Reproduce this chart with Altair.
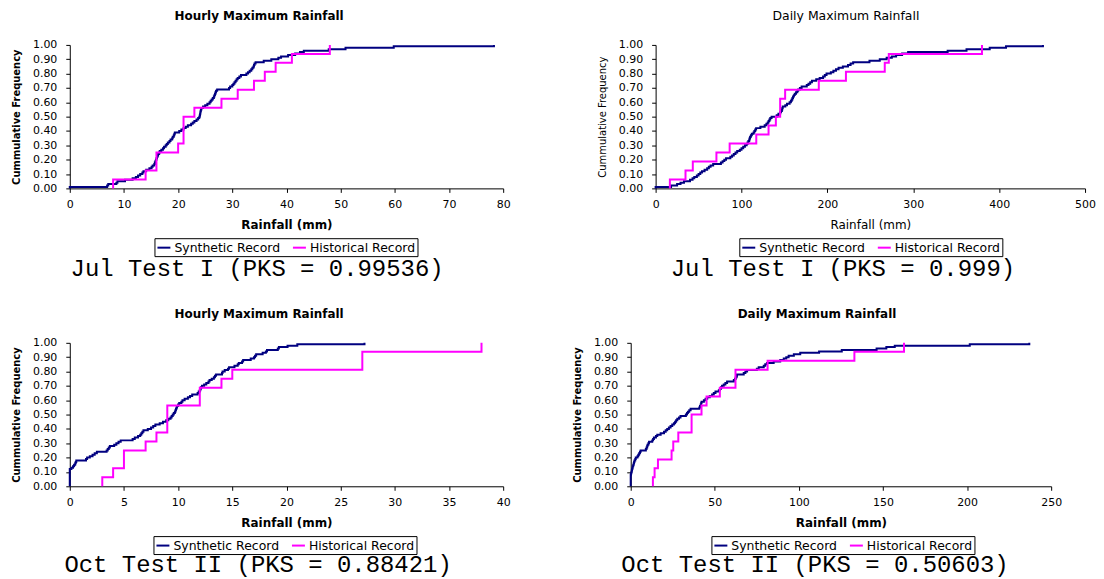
import altair as alt
import pandas as pd

# ---------------- data ----------------
SERIES = ["Synthetic Record", "Historical Record"]
SERIES_COLORS = ["#000080", "#FF00FF"]

PANEL_TITLES = ["Hourly Maximum Rainfall", "Daily Maximum Rainfall",
                "Hourly Maximum Rainfall", "Daily Maximum Rainfall"]
CAPTIONS = ["Jul Test I (PKS = 0.99536)", "Jul Test I (PKS = 0.999)",
            "Oct Test II (PKS = 0.88421)", "Oct Test II (PKS = 0.50603)"]
X_TITLE = "Rainfall (mm)"
Y_TITLE = "Cummulative Frequency"
X_MAX = [80, 500, 40, 250]
X_STEP = [10, 100, 5, 50]
Y_TICKS = [0.0, 0.1, 0.2, 0.3, 0.4, 0.5, 0.6, 0.7, 0.8, 0.9, 1.0]

# sorted sample values (mm); the cumulative frequency is computed by Vega-Lite
jul_hourly_synthetic = [
    0, 6.9, 7.1, 8.6, 8.8, 10.2, 11.6, 12.2, 12.6, 13.0,
    13.4, 13.6, 14.1, 14.7, 15.1, 15.3, 15.6, 15.7, 15.8, 15.9,
    16.0, 16.1, 16.2, 16.3, 16.5, 16.6, 16.9, 17.2, 17.4, 17.7,
    17.9, 18.1, 18.4, 18.6, 18.9, 19.0, 19.2, 19.3, 19.4, 20.2,
    20.6, 21.0, 21.4, 21.8, 22.4, 22.7, 23.0, 23.4, 23.7, 23.9,
    24.0, 24.05, 24.1, 24.15, 24.2, 24.3, 24.6, 25.0, 25.4, 25.8,
    26.0, 26.2, 26.4, 26.6, 26.7, 26.8, 26.9, 27.0, 27.2, 29.4,
    29.6, 30.0, 30.2, 30.4, 30.6, 30.8, 31.0, 31.3, 31.6, 32.6,
    32.9, 33.2, 33.5, 33.7, 33.9, 34.0, 34.1, 34.3, 35.8, 37.2,
    38.5, 39.0, 40.3, 41.6, 42.5, 43.2, 47.8, 50.9, 59.8, 78.3]
jul_hourly_historical = [8, 14, 16, 16, 20, 21, 21, 21, 23, 28, 31, 34, 36, 38, 41, 48]

jul_daily_synthetic = [
    0, 18, 25, 29, 33, 40, 43, 45, 48, 50,
    52, 54, 57, 60, 62, 64, 67, 76, 78, 80,
    82, 87, 89, 91, 93, 95, 98, 100, 102, 104,
    106, 107, 108, 109, 109.5, 110, 111, 112, 114, 115,
    116, 117, 122, 127, 129, 130.5, 131.5, 132.5, 133.5, 135,
    141, 143, 145, 146, 147, 147.5, 148, 151, 153, 156,
    157.5, 158.5, 159.3, 160, 161, 162, 163.5, 165, 166, 168,
    170, 176, 178, 180, 182, 187, 191, 195, 197, 199,
    204, 207, 210, 213, 218, 224, 227, 230, 249, 261,
    269, 275, 280, 287, 294, 340, 362, 389, 408, 451]
jul_daily_historical = [16.6, 34.8, 43.3, 70.8, 86.2, 117.2, 131.5, 140, 145, 145,
                        150.8, 190, 221.6, 266.8, 271.5, 380]

oct_hourly_synthetic = [
    0, 0, 0, 0, 0, 0, 0, 0, 0, 0,
    0, 0, 0.15, 0.3, 0.4, 0.5, 0.55, 0.6, 1.5, 1.6,
    1.85, 2.1, 2.3, 2.5, 3.4, 3.5, 3.6, 3.7, 4.1, 4.3,
    4.5, 4.7, 5.8, 6.0, 6.3, 6.5, 6.6, 6.7, 6.8, 7.2,
    7.5, 7.7, 7.9, 8.3, 8.6, 8.9, 9.1, 9.3, 9.4, 9.5,
    9.6, 9.7, 9.75, 9.8, 9.85, 9.9, 10.0, 10.1, 10.3, 10.4,
    10.6, 10.9, 11.1, 11.3, 11.8, 11.9, 12.0, 12.05, 12.1, 12.2,
    12.4, 12.6, 12.8, 12.9, 13.1, 13.3, 13.4, 13.5, 14.05, 14.1,
    14.3, 14.6, 14.7, 15.2, 15.5, 15.6, 15.9, 16.0, 16.7, 17.0,
    17.1, 17.2, 17.8, 18.1, 18.2, 19.2, 19.3, 20.1, 21.0, 27.2]
oct_hourly_historical = [3, 4, 5, 5, 7, 8, 9, 9, 9, 12, 12, 14, 15, 27, 27, 38]

oct_daily_synthetic = [
    0, 0, 0, 0, 0, 0, 0, 0, 0.2, 0.4,
    0.6, 0.8, 1.0, 1.2, 1.5, 1.8, 2.0, 2.2, 2.7, 3.0,
    4.0, 4.5, 5.0, 5.5, 5.9, 9.0, 9.4, 9.8, 10.0, 10.5,
    10.9, 12.8, 13.3, 13.8, 15.0, 15.8, 17.8, 19.8, 20.8, 21.7,
    22.7, 23.7, 24.7, 25.7, 26.4, 27.0, 27.7, 28.7, 29.6, 32.8,
    33.5, 34.0, 34.8, 35.6, 40.8, 41.2, 41.6, 41.9, 42.1, 43.5,
    44.5, 45.5, 47.0, 48.4, 49.4, 50.4, 52.4, 53.0, 53.7, 54.3,
    55.3, 56.3, 57.3, 61.3, 62.0, 62.5, 63.0, 63.2, 67.2, 68.2,
    69.2, 75.0, 76.1, 79.1, 80.0, 81.0, 85.0, 88.9, 91.0, 92.5,
    93.9, 97.0, 100.8, 112.0, 125.5, 146.2, 152.0, 157.0, 201.6, 237.0]
oct_daily_historical = [13.2, 14.2, 16.2, 24.3, 25.3, 28.3, 36.2, 36.2, 42.1, 45.1,
                        53, 62.3, 62.3, 81.4, 133, 162.5]

SYNTHETIC = [jul_hourly_synthetic, jul_daily_synthetic, oct_hourly_synthetic, oct_daily_synthetic]
HISTORICAL = [jul_hourly_historical, jul_daily_historical, oct_hourly_historical, oct_daily_historical]
BOLD = [True, False, True, True]

# ---------------- layout (pixels, relative to each panel's group) ----------------
PLOT_H = 144
WIDTHS = [435, 456, 435, 422]
RANGE_LEFT = [0, 25, 0, 0]
TITLE_X = [190, 216, 190, 187]
LEGEND_X = [85, 109, 84, 81]
LEGEND_Y = [194, 194, 194, 194]
CAPTION_X = [188, 213, 189, 185]
CAPTION_Y = [225, 225, 223, 223]


def make_panel(i):
    syn, hist = SYNTHETIC[i], HISTORICAL[i]
    df = pd.DataFrame({
        "rain": syn + hist,
        "series": [SERIES[0]] * len(syn) + [SERIES[1]] * len(hist),
    })
    weight = "bold" if BOLD[i] else "normal"
    left = RANGE_LEFT[i]
    width = WIDTHS[i]
    if left:
        xscale = alt.Scale(domain=[0, X_MAX[i]], range=[left, width], nice=False)
    else:
        xscale = alt.Scale(domain=[0, X_MAX[i]], nice=False)

    lines = (
        alt.Chart(df)
        .transform_window(rank="row_number()", sort=[alt.SortField("rain")], groupby=["series"])
        .transform_joinaggregate(n="count(rain)", groupby=["series"])
        .transform_calculate(lo="(datum.rank - 1) / datum.n", hi="datum.rank / datum.n")
        .transform_fold(["lo", "hi"], as_=["edge", "F"])
        .transform_calculate(ord="datum.rank * 2 + (datum.edge == 'hi' ? 1 : 0)")
        .mark_line(strokeWidth=2, clip=False)
        .encode(
            x=alt.X("rain:Q", scale=xscale,
                    axis=alt.Axis(values=list(range(0, X_MAX[i] + 1, X_STEP[i])), format="d",
                                  title=X_TITLE, titleFontWeight=weight, titleFontSize=12,
                                  titleFont="DejaVu Sans", titleColor="black",
                                  labelFont="DejaVu Sans", labelFontSize=11, labelColor="black",
                                  tickSize=4, labelPadding=6, titlePadding=10,
                                  grid=False, domainColor="black", tickColor="black",
                                  labelFlush=False)),
            y=alt.Y("F:Q", scale=alt.Scale(domain=[0, 1], nice=False),
                    axis=alt.Axis(values=Y_TICKS, format=".2f", title=Y_TITLE,
                                  titleFontWeight=weight, titleFontSize=10,
                                  titleFont="DejaVu Sans", titleColor="black",
                                  labelFont="DejaVu Sans", labelFontSize=11, labelColor="black",
                                  tickSize=4, labelPadding=9, titlePadding=11,
                                  grid=False, domainColor="black", tickColor="black",
                                  labelFlush=False, offset=-left)),
            color=alt.Color("series:N",
                            scale=alt.Scale(domain=SERIES, range=SERIES_COLORS),
                            legend=alt.Legend(orient="none", legendX=LEGEND_X[i], legendY=LEGEND_Y[i],
                                              direction="horizontal", columns=2, title=None,
                                              strokeColor="black", fillColor="white",
                                              padding=2, cornerRadius=0,
                                              symbolType="stroke", symbolSize=169,
                                              symbolStrokeWidth=2,
                                              labelFont="DejaVu Sans", labelFontSize=12.5,
                                              labelColor="black", labelOffset=3,
                                              columnPadding=8, labelLimit=300)),
            order=alt.Order("ord:Q"),
        )
    )

    title = (
        alt.Chart(pd.DataFrame({"t": [PANEL_TITLES[i]]}))
        .mark_text(font="DejaVu Sans", fontSize=12 if BOLD[i] else 12.5, fontWeight=weight,
                   align="center", baseline="middle", color="black")
        .encode(text="t:N", x=alt.value(TITLE_X[i]), y=alt.value(-29))
    )
    caption = (
        alt.Chart(pd.DataFrame({"t": [CAPTIONS[i]]}))
        .mark_text(font="Liberation Mono", fontSize=24, align="center",
                   baseline="middle", color="black")
        .encode(text="t:N", x=alt.value(CAPTION_X[i]), y=alt.value(CAPTION_Y[i]))
    )
    return alt.layer(lines, title, caption).properties(width=width, height=PLOT_H)


panels = [make_panel(i) for i in range(4)]

chart = (
    alt.concat(*panels, columns=2, spacing={"row": 155, "column": 128}, bounds="flush")
    .resolve_scale(color="independent", x="independent", y="independent")
    .resolve_legend(color="independent")
    .configure(padding={"left": 3, "top": 1, "right": 0, "bottom": 0}, background="white")
    .configure_view(strokeWidth=0)
)

chart.save("out.html", embed_options={"renderer": "svg", "actions": False})
